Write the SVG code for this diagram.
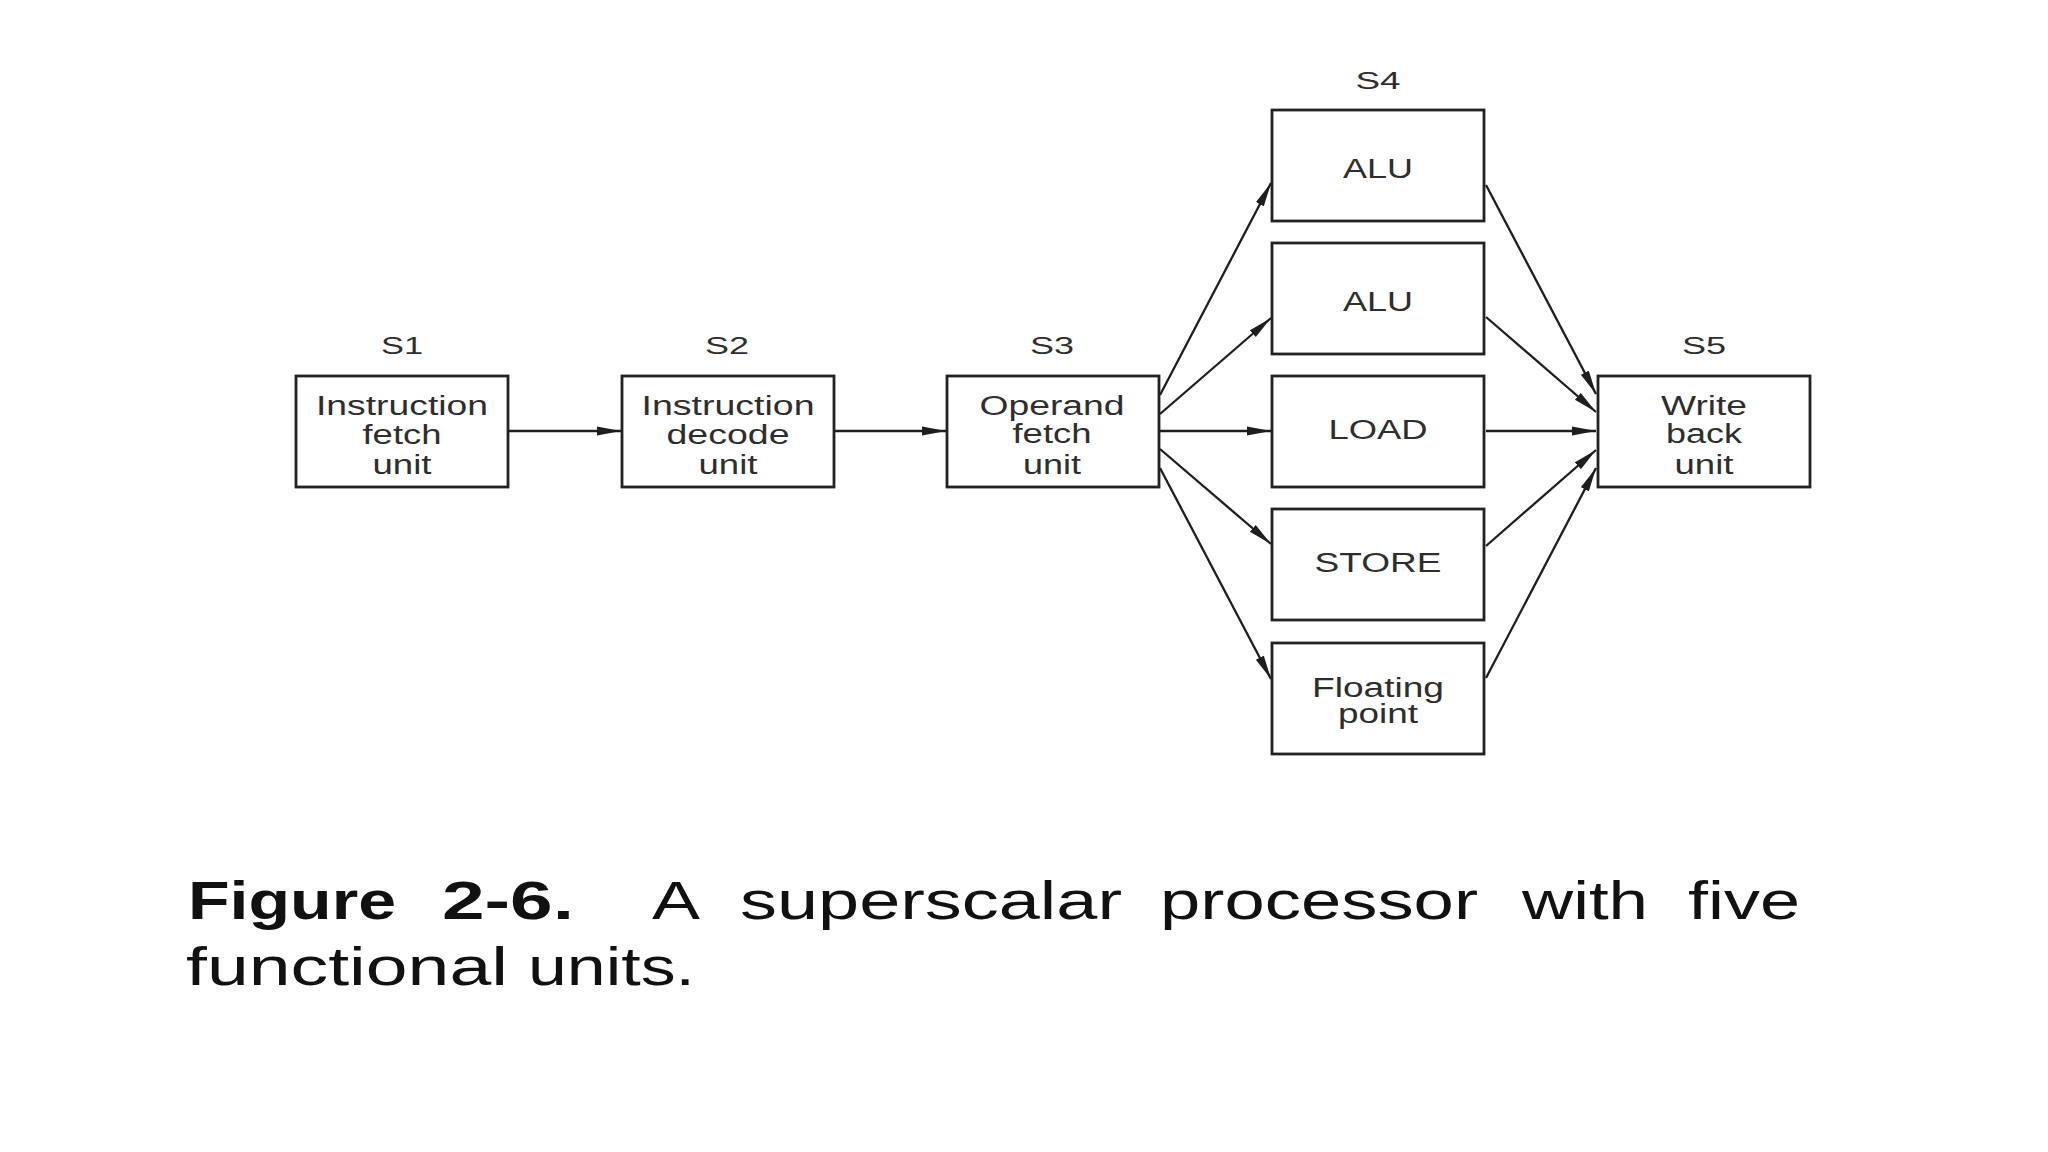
<svg xmlns="http://www.w3.org/2000/svg" width="2048" height="1152" viewBox="0 0 2048 1152">
<style>
.box{fill:#fff;stroke:#222;stroke-width:2.8}
.t{font-family:"Liberation Sans",Arial,sans-serif;font-size:27px;fill:#2e2e2e;text-anchor:middle}
.s{font-family:"Liberation Sans",Arial,sans-serif;font-size:24px;fill:#2e2e2e;text-anchor:middle}
.c{fill:none;stroke:#1e1e1e;stroke-width:2.3}
.cap{font-family:"Liberation Sans",Arial,sans-serif;font-size:54px;fill:#111}
.capb{font-family:"Liberation Sans",Arial,sans-serif;font-size:54px;font-weight:bold;fill:#111}
</style>
<defs>
<marker id="ah" markerUnits="userSpaceOnUse" markerWidth="26" markerHeight="12" refX="24" refY="5" orient="auto">
<path d="M0,0.5 L24,5 L0,9.5 Z" fill="#1e1e1e"/>
</marker>
</defs>
<rect width="2048" height="1152" fill="#fff"/>

<g id="connectors">
<line class="c" x1="508" y1="431" x2="621" y2="431" marker-end="url(#ah)"/>
<line class="c" x1="834" y1="431" x2="946" y2="431" marker-end="url(#ah)"/>
<line class="c" x1="1160" y1="395" x2="1271" y2="183" marker-end="url(#ah)"/>
<line class="c" x1="1160" y1="414" x2="1271" y2="318" marker-end="url(#ah)"/>
<line class="c" x1="1160" y1="431" x2="1271" y2="431" marker-end="url(#ah)"/>
<line class="c" x1="1160" y1="449" x2="1271" y2="544" marker-end="url(#ah)"/>
<line class="c" x1="1160" y1="468" x2="1271" y2="679" marker-end="url(#ah)"/>
<line class="c" x1="1486" y1="185" x2="1596" y2="394" marker-end="url(#ah)"/>
<line class="c" x1="1486" y1="317" x2="1596" y2="412" marker-end="url(#ah)"/>
<line class="c" x1="1486" y1="431" x2="1596" y2="431" marker-end="url(#ah)"/>
<line class="c" x1="1486" y1="546" x2="1596" y2="450" marker-end="url(#ah)"/>
<line class="c" x1="1486" y1="678" x2="1596" y2="468" marker-end="url(#ah)"/>
</g>

<g id="s1">
<text class="s" x="402" y="354" textLength="42" lengthAdjust="spacingAndGlyphs">S1</text>
<rect class="box" x="296" y="376" width="212" height="111"/>
<text class="t" x="402" y="415" textLength="172" lengthAdjust="spacingAndGlyphs">Instruction</text>
<text class="t" x="402" y="444" textLength="79" lengthAdjust="spacingAndGlyphs">fetch</text>
<text class="t" x="402" y="474" textLength="59" lengthAdjust="spacingAndGlyphs">unit</text>
</g>

<g id="s2">
<text class="s" x="727" y="354" textLength="44" lengthAdjust="spacingAndGlyphs">S2</text>
<rect class="box" x="622" y="376" width="212" height="111"/>
<text class="t" x="728" y="415" textLength="173" lengthAdjust="spacingAndGlyphs">Instruction</text>
<text class="t" x="728" y="444" textLength="123" lengthAdjust="spacingAndGlyphs">decode</text>
<text class="t" x="728" y="474" textLength="59" lengthAdjust="spacingAndGlyphs">unit</text>
</g>

<g id="s3">
<text class="s" x="1052" y="354" textLength="44" lengthAdjust="spacingAndGlyphs">S3</text>
<rect class="box" x="947" y="376" width="212" height="111"/>
<text class="t" x="1052" y="415" textLength="145" lengthAdjust="spacingAndGlyphs">Operand</text>
<text class="t" x="1052" y="443" textLength="79" lengthAdjust="spacingAndGlyphs">fetch</text>
<text class="t" x="1052" y="474" textLength="58" lengthAdjust="spacingAndGlyphs">unit</text>
</g>

<g id="s4-label">
<text class="s" x="1378" y="89" textLength="45" lengthAdjust="spacingAndGlyphs">S4</text>
</g>

<g id="alu1">
<rect class="box" x="1272" y="110" width="212" height="111"/>
<text class="t" x="1378" y="178" textLength="70" lengthAdjust="spacingAndGlyphs">ALU</text>
</g>

<g id="alu2">
<rect class="box" x="1272" y="243" width="212" height="111"/>
<text class="t" x="1378" y="311" textLength="70" lengthAdjust="spacingAndGlyphs">ALU</text>
</g>

<g id="load">
<rect class="box" x="1272" y="376" width="212" height="111"/>
<text class="t" x="1378" y="439" textLength="99" lengthAdjust="spacingAndGlyphs">LOAD</text>
</g>

<g id="store">
<rect class="box" x="1272" y="509" width="212" height="111"/>
<text class="t" x="1378" y="572" textLength="127" lengthAdjust="spacingAndGlyphs">STORE</text>
</g>

<g id="fp">
<rect class="box" x="1272" y="643" width="212" height="111"/>
<text class="t" x="1378" y="697" textLength="132" lengthAdjust="spacingAndGlyphs">Floating</text>
<text class="t" x="1378" y="723" textLength="80" lengthAdjust="spacingAndGlyphs">point</text>
</g>

<g id="s5">
<text class="s" x="1704" y="354" textLength="44" lengthAdjust="spacingAndGlyphs">S5</text>
<rect class="box" x="1598" y="376" width="212" height="111"/>
<text class="t" x="1704" y="415" textLength="86" lengthAdjust="spacingAndGlyphs">Write</text>
<text class="t" x="1704" y="443" textLength="76" lengthAdjust="spacingAndGlyphs">back</text>
<text class="t" x="1704" y="474" textLength="59" lengthAdjust="spacingAndGlyphs">unit</text>
</g>

<g id="caption">
<text class="capb" x="188" y="919" textLength="208" lengthAdjust="spacingAndGlyphs">Figure</text>
<text class="capb" x="442" y="919" textLength="132" lengthAdjust="spacingAndGlyphs">2-6.</text>
<text class="cap" x="652" y="919" textLength="48" lengthAdjust="spacingAndGlyphs">A</text>
<text class="cap" x="740" y="919" textLength="382" lengthAdjust="spacingAndGlyphs">superscalar</text>
<text class="cap" x="1160" y="919" textLength="318" lengthAdjust="spacingAndGlyphs">processor</text>
<text class="cap" x="1522" y="919" textLength="126" lengthAdjust="spacingAndGlyphs">with</text>
<text class="cap" x="1688" y="919" textLength="112" lengthAdjust="spacingAndGlyphs">five</text>
<text class="cap" x="186" y="985" textLength="322" lengthAdjust="spacingAndGlyphs">functional</text>
<text class="cap" x="528" y="985" textLength="167" lengthAdjust="spacingAndGlyphs">units.</text>
</g>
</svg>
